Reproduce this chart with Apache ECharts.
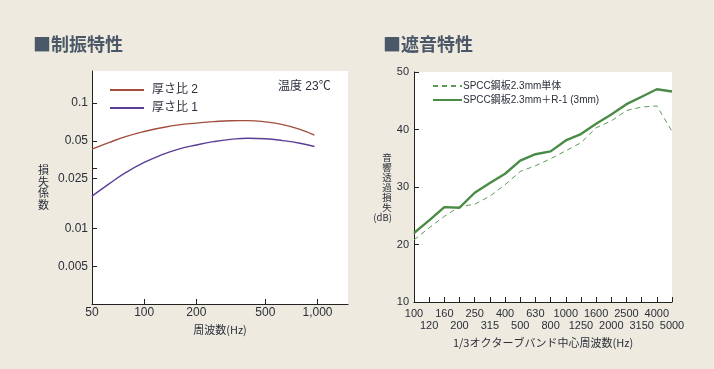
<!DOCTYPE html>
<html><head><meta charset="utf-8">
<script src="https://cdn.jsdelivr.net/npm/echarts@6/dist/echarts.min.js"></script>
<style>html,body{margin:0;padding:0;background:#EEEADF;}#c{width:714px;height:369px;}</style>
</head><body><div id="c"></div>
<script>
// ---- Left chart: 制振特性 (loss factor vs frequency) ----
const freqAxis = [50, 63, 79, 100, 126, 158, 200, 251, 315, 397, 500, 630, 792, 960];
const lossRatio2 = [0.0429, 0.0486, 0.0542, 0.0593, 0.0635, 0.0669, 0.0692, 0.0711, 0.0723, 0.0724, 0.0708, 0.0673, 0.0617, 0.0555];
const lossRatio1 = [0.0181, 0.0228, 0.0281, 0.0336, 0.0386, 0.0429, 0.0463, 0.0492, 0.0513, 0.0524, 0.0519, 0.0502, 0.0478, 0.0450];
const leftXTicks = [50, 100, 200, 500, 1000];
const leftYLabels = [0.005, 0.01, 0.025, 0.05, 0.1];
const leftYTicks = [0.005, 0.01, 0.025, 0.03, 0.05, 0.1];

// ---- Right chart: 遮音特性 (transmission loss) ----
const bandLabels = ['100','120','160','200','250','315','400','500','630','800','1000','1250','1600','2000','2500','3150','4000','5000'];
const tlSteel = [20.8, 22.9, 24.9, 26.6, 27.0, 28.4, 30.4, 32.7, 33.7, 34.9, 36.3, 37.7, 40.3, 41.5, 43.3, 43.9, 44.1, 39.7];
const tlSteelR1 = [22.0, 24.2, 26.5, 26.4, 29.0, 30.7, 32.3, 34.6, 35.7, 36.2, 38.1, 39.2, 41.0, 42.6, 44.4, 45.7, 47.0, 46.6];

const FONT = '"Liberation Sans", "Noto Sans CJK JP", sans-serif';
const CJK = '"Noto Sans CJK JP", sans-serif';
const TXT = '#2b2f3a';
const chart = echarts.init(document.getElementById('c'));

function pairs(xs, ys) { return xs.map((x, i) => [x, ys[i]]); }

chart.setOption({
  backgroundColor: '#EEEADF',
  textStyle: { fontFamily: FONT },
  animation: false,
  graphic: [
    { type: 'text', left: 33, top: 35, style: { text: '■制振特性', fontSize: 18, fill: '#4B5867', fontFamily: CJK, fontWeight: 'bold' } },
    { type: 'text', left: 383, top: 35, style: { text: '■遮音特性', fontSize: 18, fill: '#4B5867', fontFamily: CJK, fontWeight: 'bold' } },
    { type: 'text', left: 278, top: 81, style: { text: '温度 23℃', fontSize: 12, fill: TXT, fontFamily: FONT } }
  ],
  legend: [
    { orient: 'vertical', left: 104, top: 79, itemWidth: 34, itemHeight: 10, itemGap: 6,
      itemStyle: { opacity: 0 },
      textStyle: { fontSize: 12, color: TXT, fontFamily: FONT, padding: [0, 0, 0, 3] },
      data: ['厚さ比 2', '厚さ比 1'] },
    { orient: 'vertical', left: 427, top: 76, itemWidth: 29, itemHeight: 10, itemGap: 4,
      itemStyle: { opacity: 0 },
      textStyle: { fontSize: 10, color: TXT, fontFamily: FONT, padding: [0, 0, 0, -4] },
      data: ['SPCC鋼板2.3mm単体', 'SPCC鋼板2.3mm＋R-1 (3mm)'] }
  ],
  grid: [
    { left: 92, top: 71, width: 256, height: 233, show: true, backgroundColor: '#ffffff', borderWidth: 0 },
    { left: 414, top: 72, width: 258, height: 230, show: true, backgroundColor: '#ffffff', borderWidth: 0 }
  ],
  xAxis: [
    { type: 'log', gridIndex: 0, min: 50, max: 1500, logBase: 10,
      name: '周波数(Hz)', nameLocation: 'middle', nameGap: 18,
      nameTextStyle: { fontSize: 11, color: TXT, fontFamily: CJK },
      axisLine: { lineStyle: { color: '#222', width: 1 } },
      axisTick: { inside: true, length: 5, lineStyle: { color: '#222' }, customValues: [100, 200, 500, 1000] },
      minorTick: { show: false },
      splitLine: { show: false },
      axisLabel: { customValues: leftXTicks, fontSize: 12, color: TXT, margin: 3,
        formatter: v => { const n = Math.round(v); return n >= 1000 ? n.toLocaleString('en-US') : String(n); } } },
    { type: 'category', gridIndex: 1, data: bandLabels, boundaryGap: false,
      name: '1/3オクターブバンド中心周波数(Hz)', nameLocation: 'middle', nameGap: 33,
      nameTextStyle: { fontSize: 11, color: TXT, fontFamily: CJK },
      axisLine: { lineStyle: { color: '#222', width: 1 } },
      axisTick: { inside: true, length: 5, interval: 0, lineStyle: { color: '#222' } },
      splitLine: { show: false },
      axisLabel: { interval: 0, fontSize: 11, color: TXT, margin: 6, lineHeight: 12,
        formatter: (v, i) => (i % 2 ? '\n' + v : v) } }
  ],
  yAxis: [
    { type: 'log', gridIndex: 0, min: 0.0025, max: 0.18, logBase: 10,
      name: '損\n失\n係\n数', nameLocation: 'middle', nameRotate: 0, nameGap: 43,
      nameTextStyle: { fontSize: 11, color: TXT, lineHeight: 11.5, fontFamily: CJK, padding: [12, 0, 0, 0] },
      axisLine: { show: true, lineStyle: { color: '#222', width: 1 } },
      axisTick: { show: true, inside: true, length: 5, lineStyle: { color: '#222' }, customValues: leftYTicks },
      minorTick: { show: false },
      splitLine: { show: false },
      axisLabel: { customValues: leftYLabels, fontSize: 12, color: TXT, margin: 4,
        formatter: v => String(+(+v).toPrecision(3)) } },
    { type: 'value', gridIndex: 1, min: 10, max: 50, interval: 10,
      name: '音\n響\n透\n過\n損\n失\n(dB)', nameLocation: 'middle', nameRotate: 0, nameGap: 22,
      nameTextStyle: { fontSize: 9.5, color: TXT, lineHeight: 10, fontFamily: CJK, padding: [0, 0, 10, 0] },
      axisLine: { show: true, lineStyle: { color: '#222', width: 1 } },
      axisTick: { show: true, inside: true, length: 5, lineStyle: { color: '#222' } },
      splitLine: { show: false },
      axisLabel: { fontSize: 11, color: TXT, margin: 5 } }
  ],
  series: [
    { name: '厚さ比 2', type: 'line', xAxisIndex: 0, yAxisIndex: 0, smooth: true, symbol: 'none',
      lineStyle: { color: '#A24E3C', width: 1.4 }, itemStyle: { color: '#A24E3C' },
      data: pairs(freqAxis, lossRatio2) },
    { name: '厚さ比 1', type: 'line', xAxisIndex: 0, yAxisIndex: 0, smooth: true, symbol: 'none',
      lineStyle: { color: '#5B3D98', width: 1.4 }, itemStyle: { color: '#5B3D98' },
      data: pairs(freqAxis, lossRatio1) },
    { name: 'SPCC鋼板2.3mm単体', type: 'line', xAxisIndex: 1, yAxisIndex: 1, symbol: 'none',
      lineStyle: { color: '#5A9A55', width: 1, type: [5, 4] }, itemStyle: { color: '#5A9A55' },
      data: tlSteel },
    { name: 'SPCC鋼板2.3mm＋R-1 (3mm)', type: 'line', xAxisIndex: 1, yAxisIndex: 1, symbol: 'none',
      lineStyle: { color: '#4A8B45', width: 2.4 }, itemStyle: { color: '#4A8B45' },
      data: tlSteelR1 }
  ]
});
</script></body></html>
